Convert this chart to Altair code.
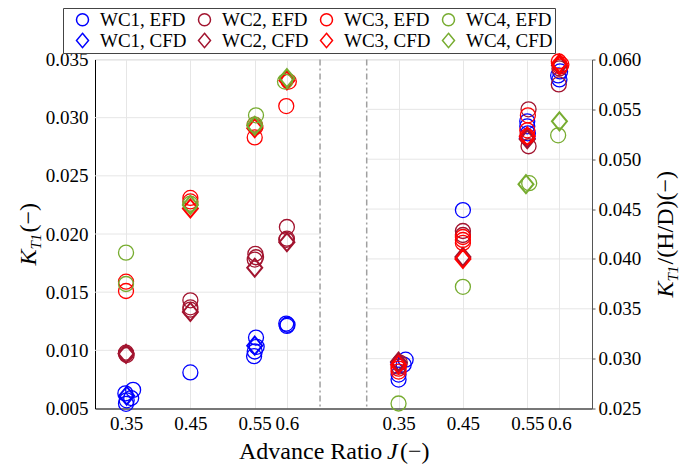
import altair as alt
import pandas as pd

# ---------------- data: (J, value) ----------------
# Left panel: K_T1
WC1_EFD_KT = [(0.361, 0.0066), (0.349, 0.0063), (0.358, 0.0059), (0.351, 0.0057), (0.350, 0.0054),
              (0.450, 0.0081),
              (0.552, 0.0111), (0.553, 0.0103), (0.550, 0.0099), (0.549, 0.0095),
              (0.599, 0.0123), (0.601, 0.0122), (0.600, 0.0121)]
WC1_CFD_KT = [(0.351, 0.0061), (0.550, 0.0104)]
WC2_EFD_KT = [(0.350, 0.0098), (0.351, 0.0096), (0.350, 0.0097),
              (0.450, 0.0143), (0.450, 0.0137), (0.450, 0.0135),
              (0.551, 0.0183), (0.552, 0.0180), (0.550, 0.0178),
              (0.600, 0.0206), (0.600, 0.0196), (0.599, 0.0195)]
WC2_CFD_KT = [(0.350, 0.0097), (0.450, 0.0133), (0.550, 0.0171), (0.600, 0.0193)]
WC3_EFD_KT = [(0.350, 0.0159), (0.350, 0.0151), (0.450, 0.0231), (0.450, 0.0228),
              (0.550, 0.0294), (0.551, 0.0292), (0.550, 0.0283), (0.603, 0.0331), (0.599, 0.0310)]
WC3_CFD_KT = [(0.450, 0.0222), (0.550, 0.0291), (0.600, 0.0332)]
WC4_EFD_KT = [(0.350, 0.0184), (0.350, 0.0157), (0.450, 0.0226),
              (0.552, 0.0302), (0.550, 0.0294), (0.597, 0.0331)]
WC4_CFD_KT = [(0.450, 0.0225), (0.550, 0.0293), (0.600, 0.0334)]

# Right panel: K_T1/(H/D)
WC1_EFD_KH = [(0.361, 0.0299), (0.358, 0.0294), (0.350, 0.0284), (0.350, 0.0279),
              (0.450, 0.0449),
              (0.550, 0.0538), (0.550, 0.0533), (0.551, 0.0526),
              (0.598, 0.0584), (0.600, 0.0580), (0.601, 0.0588)]
WC1_CFD_KH = [(0.350, 0.0296), (0.550, 0.0521)]
WC2_EFD_KH = [(0.352, 0.0296), (0.350, 0.0292),
              (0.450, 0.0428), (0.450, 0.0424),
              (0.552, 0.0550), (0.552, 0.0513),
              (0.600, 0.0591), (0.599, 0.0575)]
WC2_CFD_KH = [(0.350, 0.0297), (0.450, 0.0402), (0.550, 0.0520), (0.600, 0.0594)]
WC3_EFD_KH = [(0.350, 0.0290), (0.350, 0.0287),
              (0.450, 0.0422), (0.450, 0.0419), (0.450, 0.0416),
              (0.551, 0.0544), (0.550, 0.0529), (0.550, 0.0523),
              (0.599, 0.0598), (0.603, 0.0595), (0.601, 0.0593)]
WC3_CFD_KH = [(0.350, 0.0294), (0.450, 0.0400), (0.550, 0.0523), (0.600, 0.0596)]
WC4_EFD_KH = [(0.350, 0.0255), (0.450, 0.0372), (0.553, 0.0476), (0.598, 0.0524)]
WC4_CFD_KH = [(0.548, 0.0475), (0.600, 0.0538)]

SERIES = ["WC1, EFD", "WC2, EFD", "WC3, EFD", "WC4, EFD",
          "WC1, CFD", "WC2, CFD", "WC3, CFD", "WC4, CFD"]
COLORS = ["#0000FF", "#A2142F", "#FF0000", "#77AC30",
          "#0000FF", "#A2142F", "#FF0000", "#77AC30"]
DIAMOND = "M0,-1.2L1,0L0,1.2L-1,0Z"
SHAPES = ["circle"] * 4 + [DIAMOND] * 4

X_TICKS = [0.35, 0.45, 0.55, 0.6]
LEFT_TICKS = [0.005, 0.010, 0.015, 0.020, 0.025, 0.030, 0.035]
RIGHT_TICKS = [0.025, 0.030, 0.035, 0.040, 0.045, 0.050, 0.055, 0.060]

# ---------------- layout of the broken x axis ----------------
SHIFT = 0.4235                      # right panel offset on the common x scale
X_DOMAIN = [0.3018, 1.0741]
LEFT_SPAN = [0.3018, 0.6515]
RIGHT_SPAN = [0.7240, 1.0741]
DIVIDERS = [0.6515, 0.7240]

FONT = "Liberation Serif"

left_sets = [("WC1, EFD", WC1_EFD_KT), ("WC1, CFD", WC1_CFD_KT),
             ("WC2, EFD", WC2_EFD_KT), ("WC2, CFD", WC2_CFD_KT),
             ("WC3, EFD", WC3_EFD_KT), ("WC3, CFD", WC3_CFD_KT),
             ("WC4, EFD", WC4_EFD_KT), ("WC4, CFD", WC4_CFD_KT)]
right_sets = [("WC1, EFD", WC1_EFD_KH), ("WC1, CFD", WC1_CFD_KH),
              ("WC2, EFD", WC2_EFD_KH), ("WC2, CFD", WC2_CFD_KH),
              ("WC3, EFD", WC3_EFD_KH), ("WC3, CFD", WC3_CFD_KH),
              ("WC4, EFD", WC4_EFD_KH), ("WC4, CFD", WC4_CFD_KH)]


def build(sets, shift):
    rows = []
    k = 0
    for name, pts in sets:
        for j, v in pts:
            rows.append({"series": name, "xp": j + shift, "v": v,
                         "sw": 2.0 if "CFD" in name else 1.3, "k": k})
            k += 1
    return pd.DataFrame(rows)


df_left = build(left_sets, 0.0)
df_right = build(right_sets, SHIFT)

tick_vals = X_TICKS + [round(t + SHIFT, 4) for t in X_TICKS]
x_scale = alt.Scale(domain=X_DOMAIN, nice=False, zero=False)
x_axis = alt.Axis(values=tick_vals, title=None, grid=True, gridColor="#E6E6E6",
                  ticks=False, domainColor="black", labelFont=FONT, labelFontSize=19,
                  labelColor="black", labelPadding=6, labelOverlap=False,
                  labelExpr=f"datum.value > 0.7 ? format(datum.value - {SHIFT}, '.2~f') : format(datum.value, '.2~f')")

legend = alt.Legend(title=None, orient="none", legendX=-32, legendY=-51.5, columns=4,
                    direction="horizontal",
                    labelFont=FONT, labelFontSize=19, labelColor="black",
                    symbolSize=144, symbolStrokeWidth=1.5, strokeColor="#444",
                    fillColor="white", padding=2, rowPadding=0, columnPadding=0,
                    labelOffset=8, symbolOffset=8, gridAlign="each", labelLimit=200)
color_enc = alt.Color("series:N", scale=alt.Scale(domain=SERIES, range=COLORS), legend=legend)
shape_enc = alt.Shape("series:N", scale=alt.Scale(domain=SERIES, range=SHAPES), legend=legend)

left_axis = alt.Axis(values=LEFT_TICKS, format=".3f", title=None, orient="left", grid=False,
                     ticks=False, domainColor="black", labelFont=FONT, labelFontSize=19,
                     labelColor="black", labelPadding=7)
right_axis = alt.Axis(values=RIGHT_TICKS, format=".3f", title=None, orient="right", grid=False,
                      tickSize=3, tickColor="#555", domainColor="#555", labelFont=FONT,
                      labelFontSize=19, labelColor="black", labelPadding=3)
left_scale = alt.Scale(domain=[0.005, 0.035], nice=False, zero=False)
right_scale = alt.Scale(domain=[0.025, 0.060], nice=False, zero=False)

# horizontal grid lines of each panel (the bottom one is the x axis line itself)
grid_left = pd.DataFrame({"gy": LEFT_TICKS[1:], "x0": LEFT_SPAN[0], "x1": LEFT_SPAN[1]})
grid_right = pd.DataFrame({"gy": RIGHT_TICKS[1:], "x0": RIGHT_SPAN[0], "x1": RIGHT_SPAN[1]})

g_left = alt.Chart(grid_left).mark_rule(color="#E6E6E6", strokeWidth=1).encode(
    x=alt.X("x0:Q", scale=x_scale, axis=x_axis), x2="x1:Q",
    y=alt.Y("gy:Q", scale=left_scale, axis=left_axis))
p_left = alt.Chart(df_left).mark_point(filled=False, size=225, opacity=1).encode(
    x=alt.X("xp:Q", scale=x_scale, axis=x_axis),
    y=alt.Y("v:Q", scale=left_scale, axis=left_axis),
    color=color_enc, shape=shape_enc, strokeWidth=alt.StrokeWidth("sw:Q", scale=None, legend=None),
    order=alt.Order("k:Q"))
left_group = alt.layer(g_left, p_left)

g_right = alt.Chart(grid_right).mark_rule(color="#E6E6E6", strokeWidth=1).encode(
    x=alt.X("x0:Q", scale=x_scale, axis=x_axis), x2="x1:Q",
    y=alt.Y("gy:Q", scale=right_scale, axis=right_axis))
p_right = alt.Chart(df_right).mark_point(filled=False, size=225, opacity=1).encode(
    x=alt.X("xp:Q", scale=x_scale, axis=x_axis),
    y=alt.Y("v:Q", scale=right_scale, axis=right_axis),
    color=color_enc, shape=shape_enc, strokeWidth=alt.StrokeWidth("sw:Q", scale=None, legend=None),
    order=alt.Order("k:Q"))
right_group = alt.layer(g_right, p_right)

dividers = alt.Chart(pd.DataFrame({"d": DIVIDERS})).mark_rule(
    color="#A0A0A0", strokeWidth=1.5, strokeDash=[6, 3, 2, 3]).encode(
    x=alt.X("d:Q", scale=x_scale, axis=x_axis))

one = pd.DataFrame({"a": [0]})


def txt(s, x, y, size=24, italic=False, angle=0):
    return alt.Chart(one).mark_text(text=s, font=FONT, fontSize=size, align="left",
                                    baseline="alphabetic", angle=angle, color="black",
                                    fontStyle="italic" if italic else "normal").encode(
        x=alt.value(x), y=alt.value(y))


titles = [
    txt("Advance Ratio", 144, 399.5),
    txt("J", 292, 399.5, italic=True),
    txt("(\u2212)", 305, 399.5),
    # left y title
    txt("K", -59, 206, italic=True, angle=270),
    txt("T1", -54, 190, size=15, italic=True, angle=270),
    txt("(\u2212)", -59, 173, angle=270),
    # right y title
    txt("K", 578, 238, italic=True, angle=270),
    txt("T1", 583, 222, size=15, italic=True, angle=270),
    txt("/(H/D)(\u2212)", 578, 205, angle=270),
]

chart = alt.layer(left_group, right_group, dividers, *titles).resolve_scale(
    y="independent").properties(
    width=497, height=349,
    autosize=alt.AutoSizeParams(type="none"),
    padding={"left": 87, "top": 51.5, "right": 91, "bottom": 56.5},
).configure_view(stroke=None).configure(background="white")

chart.save("out.html", embed_options={"renderer": "svg", "actions": False})
